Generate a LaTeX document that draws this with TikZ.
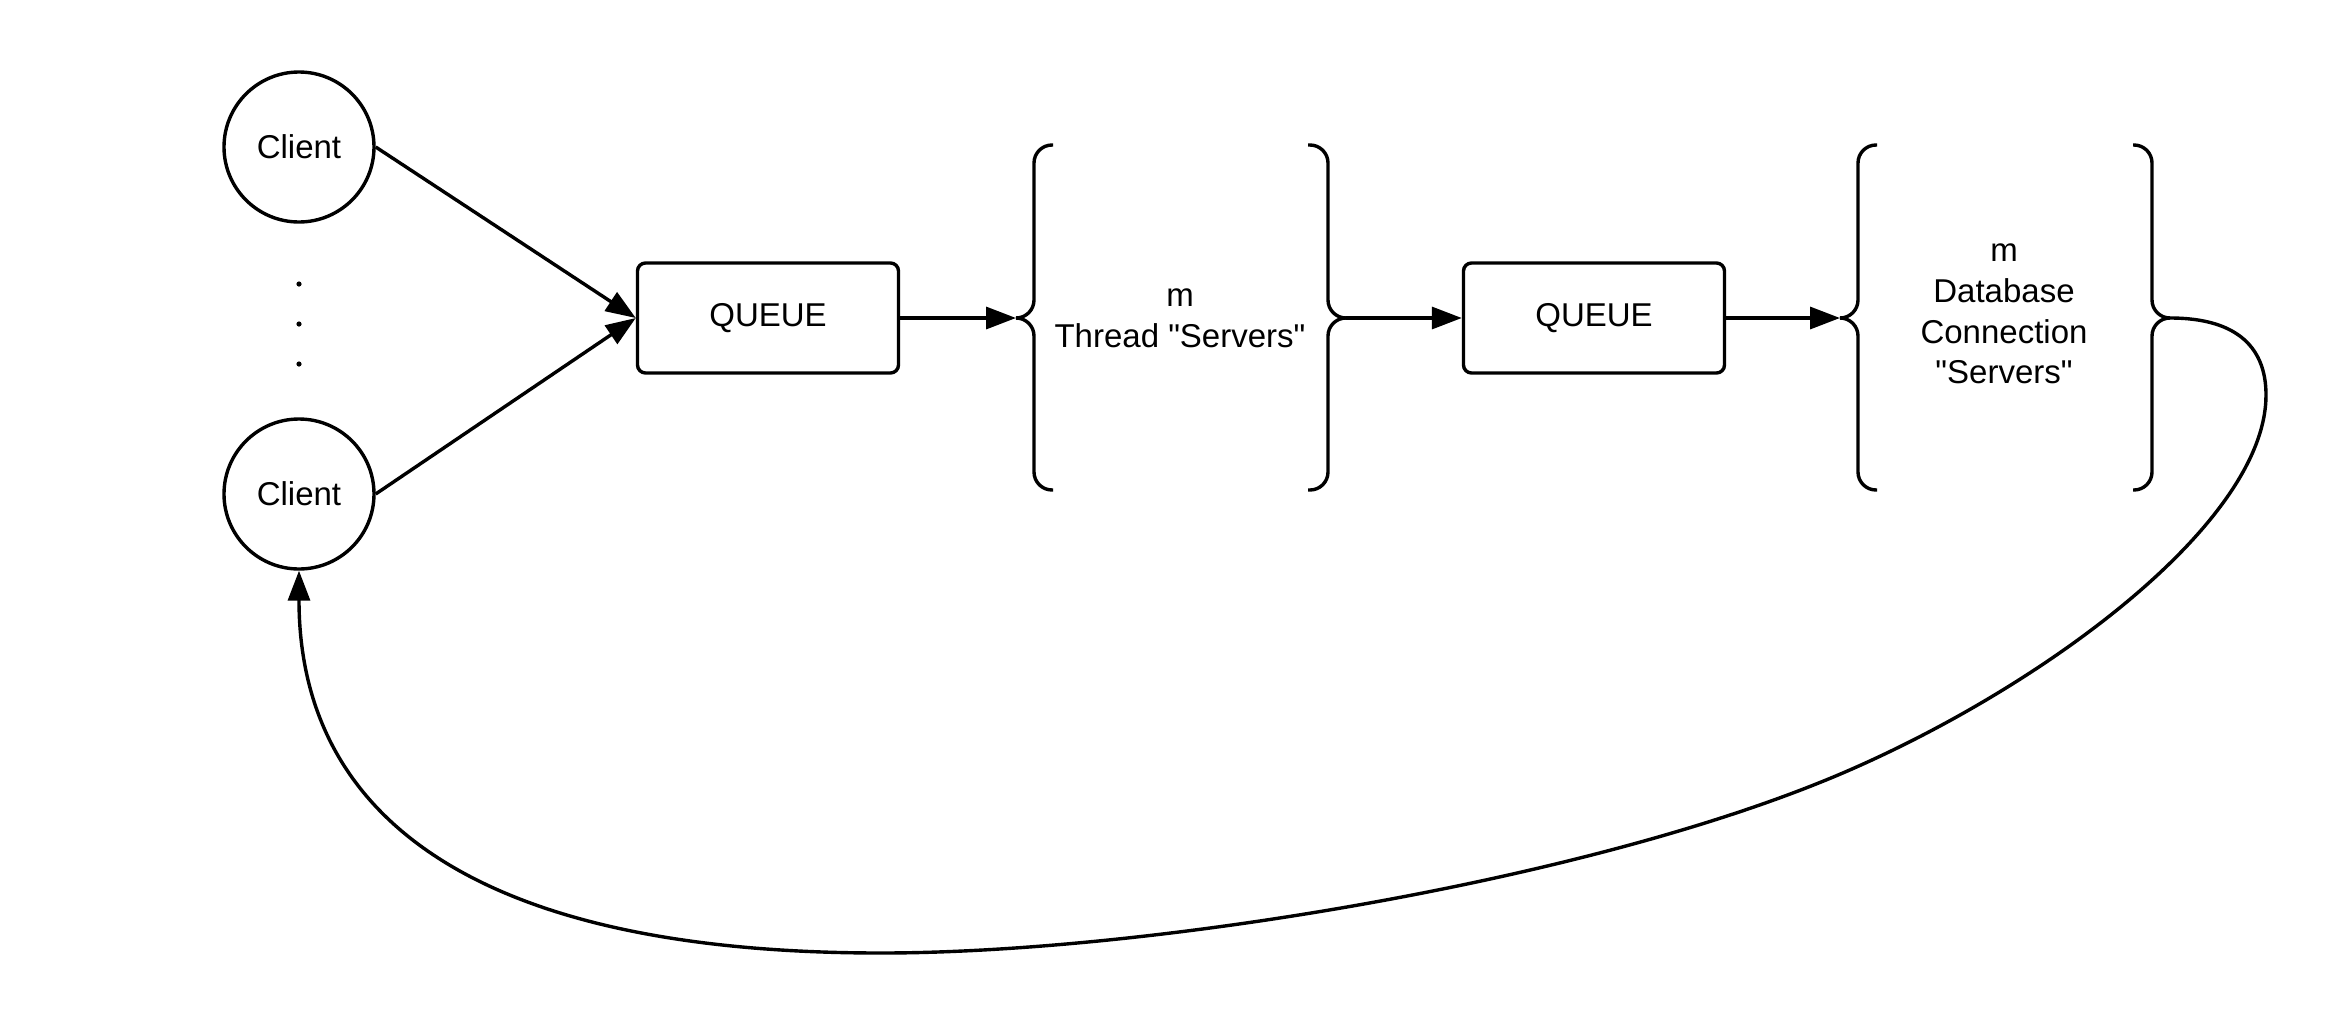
\documentclass[tikz,border=0pt]{standalone}
\usepackage{fontspec}
\newfontfamily\labelfont{Liberation Sans}
\usetikzlibrary{arrows.meta, positioning}

\begin{document}
\begin{tikzpicture}[x=0.5pt, y=-0.5pt, line width=1.7pt,
    every node/.style={font=\labelfont\fontsize{16.5}{20.3}\selectfont},
    client/.style={draw, circle, minimum size=75pt, inner sep=0pt},
    queue/.style={draw, rounded corners=4pt, minimum width=130.5pt, minimum height=55pt},
    brace/.style={rounded corners=9pt},
    arr/.style={-{Triangle[length=15pt, width=11pt]}}]
    \useasboundingbox (0,0) rectangle (2342,1029);

    % Draw the clients
    \node[client] (client1) at (299,147) {Client};
    \node[client] (client2) at (299,494) {Client};
    \foreach \y in {284,324,364}
        \fill (299,\y) circle (1.3pt);

    % Draw the queues
    \node[queue] (queue1) at (768,318) {QUEUE};
    \node[queue] (queue2) at (1594,318) {QUEUE};

    % Draw the server groups
    \node[align=center] (threads) at (1180,318) {m\\Thread "Servers"};
    \node[align=center] (dbconn) at (2004,314) {m\\Database\\Connection\\"Servers"};

    % Brace tips
    \coordinate (thrin) at (1016,318);
    \coordinate (throut) at (1346,318);
    \coordinate (dbin) at (1840,318);
    \coordinate (dbout) at (2170,318);

    % Draw the braces
    \draw[brace] (1053,145) -- (1034,145) -- (1034,318) -- (thrin);
    \draw[brace] (1053,490) -- (1034,490) -- (1034,318) -- (thrin);
    \draw[brace] (1308,145) -- (1328,145) -- (1328,318) -- (throut);
    \draw[brace] (1308,490) -- (1328,490) -- (1328,318) -- (throut);
    \draw[brace] (1877,145) -- (1858,145) -- (1858,318) -- (dbin);
    \draw[brace] (1877,490) -- (1858,490) -- (1858,318) -- (dbin);
    \draw[brace] (2133,145) -- (2152,145) -- (2152,318) -- (dbout);
    \draw[brace] (2133,490) -- (2152,490) -- (2152,318) -- (dbout);

    % Draw the arrows
    \draw[arr] (client1.east) -- (queue1.west);
    \draw[arr] (client2.east) -- (queue1.west);
    \draw[arr] (queue1.east) -- (thrin);
    \draw[arr] (throut) -- (queue2.west);
    \draw[arr] (queue2.east) -- (dbin);

    % Return path back to the client
    \draw[arr] (dbout) .. controls (2240,318) and (2266,350) .. (2266,395)
        .. controls (2266,520) and (2052,681) .. (1852,769)
        .. controls (1602,879) and (1150,953) .. (881,953)
        .. controls (450,953) and (299,800) .. (client2.south);

\end{tikzpicture}
\end{document}
